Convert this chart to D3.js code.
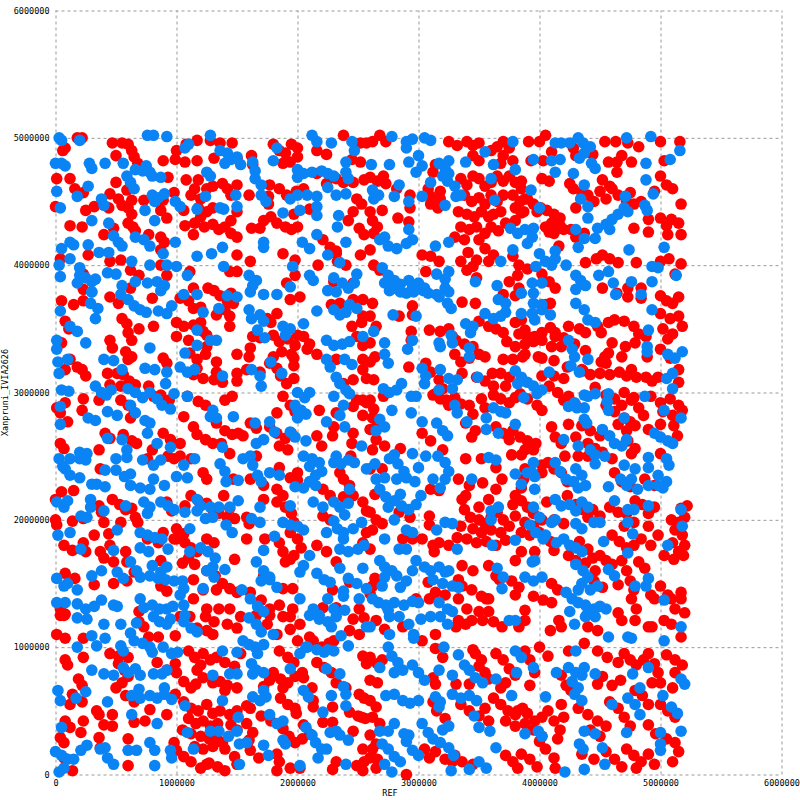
<!DOCTYPE html>
<html>
<head>
<meta charset="utf-8">
<script src="https://cdn.jsdelivr.net/npm/d3@7"></script>
<style>
body { margin: 0; background: #fff; }
svg { display: block; }
.tick text { font-family: "DejaVu Sans Mono", monospace; font-size: 8.5px; fill: #000; }
</style>
</head>
<body>
<script>
// dot plot of REF vs Xanpruni_IVIA2626, positions in Mb

var xTicks = [0, 1000000, 2000000, 3000000, 4000000, 5000000, 6000000];
var yTicks = [0, 1000000, 2000000, 3000000, 4000000, 5000000, 6000000];
var xLabel = "REF";
var yLabel = "Xanpruni_IVIA2626";

var redPts = [
// y 3.8 - 5.0, x 0 - 2.6
[0.18,5.0],[0.22,5.0],[0.08,4.92],[0.06,4.9],[0.47,4.96],[0.55,4.96],[0.6,4.95],[0.63,4.9],[0.65,4.85],[0.68,4.8],[0.5,4.86],
[0.89,4.82],[0.93,4.69],[0.01,4.68],[0.12,4.68],[0.16,4.6],[0.23,4.57],[0.5,4.65],[0.45,4.56],[0.52,4.52],[0.59,4.59],[0.63,4.51],
[0.98,4.57],[0.73,4.51],[0.89,4.51],[0.32,4.46],[0.44,4.45],[0.0,4.46],[0.25,4.43],[0.55,4.47],[0.6,4.45],[0.63,4.4],[0.6,4.33],
[0.64,4.3],[0.66,4.27],[0.87,4.43],[0.92,4.37],[0.12,4.31],[0.22,4.3],[0.48,4.29],[0.4,4.24],[0.77,4.24],[0.87,4.22],[0.9,4.18],
[0.27,4.08],[0.87,4.12],[0.04,4.05],[0.45,4.03],[0.54,4.04],[0.23,3.93],[0.62,3.96],[0.69,3.92],[0.87,4.0],[0.62,3.82],[0.92,3.92],
[1.08,4.95],[1.17,4.98],[1.0,4.9],[0.99,4.83],[1.07,4.81],[1.17,4.82],[1.28,4.98],[1.36,4.96],[1.46,4.96],[1.31,4.84],[1.5,4.84],
[1.62,4.86],[1.63,4.79],[1.08,4.67],[1.18,4.67],[1.15,4.6],[1.12,4.55],[1.2,4.52],[1.25,4.6],[1.3,4.62],[1.38,4.64],[1.42,4.6],
[1.45,4.55],[1.5,4.63],[1.18,4.45],[1.25,4.42],[1.3,4.45],[1.2,4.38],[1.15,4.33],[1.23,4.3],[1.3,4.32],[1.35,4.28],[1.4,4.3],
[1.45,4.25],[1.5,4.22],[1.45,4.35],[1.5,4.42],[1.06,4.43],[1.07,4.31],[1.14,4.24],[1.5,4.08],[1.61,4.03],[1.11,3.95],[1.14,3.82],
[1.26,3.82],[1.44,3.95],[1.5,3.95],[1.6,4.55],[1.77,4.63],[1.85,4.6],[1.76,4.54],[1.76,4.48],[1.72,4.35],[1.69,4.29],[1.78,4.38],
[1.83,4.33],[1.9,4.3],[1.95,4.28],[2.0,4.3],[1.97,4.4],[1.88,4.09],[1.98,4.04],[1.62,4.29],[1.8,4.95],[1.85,4.9],[1.9,4.88],
[1.95,4.95],[2.0,4.92],[1.88,4.8],[2.0,4.85],[1.94,4.81],[2.16,4.72],[1.91,4.55],[1.99,4.58],[2.05,4.6],[2.1,4.44],[2.38,5.02],
[2.52,4.96],[2.57,4.96],[2.16,4.9],[2.24,4.87],[2.45,4.83],[2.52,4.81],[2.24,4.64],[2.32,4.68],[2.38,4.65],[2.46,4.65],[2.55,4.67],
[2.49,4.52],[2.53,4.48],[2.46,4.42],[2.42,4.35],[2.51,4.29],[2.55,4.24],[2.21,4.2],[2.27,4.14],[2.32,4.11],[2.32,4.09],[2.33,4.03],
[2.4,4.0],[2.52,4.08],[2.17,4.0],[2.3,3.87],[2.46,3.86],[1.98,3.92],[1.91,3.86],
// y 3.8 - 5.0, x 2.6 - 5.2
[2.68,5.02],[2.62,4.97],[2.73,4.97],[2.6,4.69],[2.66,4.66],[2.73,4.64],[2.71,4.7],[2.82,4.6],[2.93,4.55],[2.93,4.45],[2.7,4.43],
[2.6,4.42],[2.62,4.35],[2.66,4.3],[2.63,4.25],[2.83,4.37],[2.92,4.34],[3.25,4.97],[3.32,4.94],[3.14,4.79],[3.12,4.73],[3.08,4.6],
[3.18,4.58],[3.1,4.54],[3.18,4.52],[3.1,4.48],[3.16,4.45],[3.35,4.68],[3.4,4.63],[3.45,4.7],[3.5,4.68],[3.55,4.62],[3.6,4.65],
[3.65,4.7],[3.7,4.66],[3.38,4.55],[3.44,4.5],[3.5,4.53],[3.55,4.48],[3.6,4.55],[3.65,4.5],[3.7,4.55],[3.33,4.42],[3.4,4.4],
[3.46,4.38],[3.52,4.42],[3.58,4.38],[3.62,4.4],[3.68,4.42],[3.35,4.3],[3.42,4.28],[3.48,4.3],[3.55,4.25],[3.6,4.3],[3.66,4.27],
[3.3,4.22],[3.38,4.2],[3.5,4.2],[3.72,4.33],[3.4,4.97],[3.45,4.94],[3.5,4.96],[3.6,4.9],[3.65,4.93],[3.7,4.97],[3.75,4.92],
[3.7,4.86],[3.68,4.8],[3.5,4.82],[3.45,4.86],[3.78,4.82],[3.75,4.7],[3.8,4.65],[3.85,4.6],[3.78,4.55],[3.84,4.5],[3.9,4.52],
[3.8,4.45],[3.87,4.42],[3.85,4.66],[4.02,4.68],[4.08,4.66],[3.91,4.97],[4.0,4.97],[4.05,5.02],[3.93,4.82],[4.03,4.82],[4.1,4.89],
[4.28,4.92],[4.3,4.86],[4.44,4.87],[4.25,4.64],[4.01,4.45],[4.06,4.43],[4.12,4.4],[4.1,4.33],[4.05,4.3],[4.12,4.25],[4.2,4.28],
[4.17,4.37],[3.88,4.52],[3.95,4.48],[3.98,4.42],[4.08,4.26],[4.17,4.31],[3.85,4.41],[3.8,4.35],[3.55,4.13],[3.62,4.08],[3.58,4.03],
[3.41,4.1],[3.48,4.04],[3.45,3.99],[3.78,4.07],[3.83,4.0],[3.9,3.97],[3.82,3.92],[4.16,4.15],[4.02,3.93],[4.26,4.28],[4.3,4.22],
[4.37,4.25],[4.52,4.08],[4.58,4.05],[4.65,4.02],[4.38,4.02],[4.47,4.05],[4.28,4.6],[4.35,4.57],[4.4,4.55],[4.45,4.5],[4.5,4.58],
[4.55,4.52],[4.6,4.6],[4.65,4.55],[4.72,4.5],[4.78,4.48],[4.3,4.45],[4.54,4.97],[4.63,4.97],[4.73,4.96],[4.82,4.93],[4.68,4.86],
[4.57,4.81],[4.64,4.81],[4.76,4.81],[4.64,4.73],[5.0,4.97],[5.16,4.97],[5.03,4.82],[4.52,4.67],[4.58,4.62],[5.0,4.7],[5.05,4.63],
[5.1,4.6],[4.95,4.58],[4.75,4.57],[4.84,4.5],[5.0,4.37],[5.09,4.36],[5.05,4.31],[5.15,4.33],[5.06,4.24],[5.17,4.24],[5.17,4.48],
[4.9,4.36],[4.9,4.26],[4.78,4.29],[5.07,4.05],[5.17,4.01],[4.8,4.02],[5.0,4.03],[5.12,3.93],[4.73,3.82],[4.84,3.82],[4.52,3.82],
[2.6,4.12],[2.63,4.0],[2.68,3.96],[2.78,3.85],[3.06,3.95],[3.17,4.03],[3.35,4.03],[3.03,4.08],[3.1,4.07],[3.4,3.96],[3.48,3.9],
[3.75,3.87],[3.83,3.82],[4.08,3.87],[4.13,3.82],
// y 2.5 - 3.8, x 0 - 2.6
[0.23,3.81],[0.05,3.72],[0.15,3.69],[0.23,3.72],[0.08,3.56],[0.11,3.5],[0.45,3.75],[0.52,3.7],[0.55,3.58],[0.59,3.54],[0.6,3.47],
[0.63,3.41],[0.69,3.5],[0.8,3.74],[0.81,3.52],[0.05,3.39],[0.45,3.41],[0.47,3.35],[0.58,3.32],[0.6,3.26],[0.63,3.28],[0.12,3.26],
[0.18,3.2],[0.22,3.18],[0.25,3.13],[0.08,3.18],[0.43,3.15],[0.51,3.15],[0.89,3.27],[0.92,3.23],[0.56,3.14],[0.61,3.09],[0.45,3.06],
[0.54,3.05],[0.66,3.06],[0.77,3.05],[0.81,2.97],[0.87,2.98],[0.94,2.94],[0.23,2.95],[0.08,2.92],[0.01,2.88],[0.04,2.84],[0.1,2.77],
[0.22,2.86],[0.36,2.94],[0.54,2.94],[0.6,2.9],[0.65,2.84],[0.62,2.8],[0.41,2.68],[0.45,2.64],[0.56,2.67],[0.63,2.62],[0.67,2.6],
[0.89,2.68],[0.95,2.63],[0.04,2.6],[0.07,2.56],[0.36,2.55],[0.8,2.55],[1.03,3.74],[1.1,3.72],[1.14,3.66],[1.2,3.67],[1.31,3.8],
[1.36,3.76],[1.42,3.72],[1.47,3.7],[1.4,3.65],[1.45,3.78],[1.44,3.6],[1.33,3.61],[1.0,3.55],[1.06,3.52],[1.14,3.53],[1.2,3.55],
[1.22,3.48],[1.25,3.45],[1.0,3.44],[1.1,3.41],[1.25,3.36],[1.44,3.52],[1.11,3.31],[1.17,3.26],[1.24,3.3],[1.17,3.19],[1.14,3.14],
[1.33,3.24],[1.5,3.3],[1.22,3.11],[1.31,3.1],[1.33,3.16],[1.38,3.08],[1.5,3.09],[1.58,3.18],[1.69,3.16],[1.61,3.35],[1.63,3.44],
[1.69,3.43],[1.75,3.58],[1.83,3.62],[1.94,3.73],[2.02,3.75],[1.78,3.55],[1.8,3.45],[1.85,3.4],[1.92,3.42],[1.98,3.37],[1.95,3.3],
[1.87,3.32],[2.0,3.45],[1.83,3.19],[1.86,3.13],[1.97,3.27],[1.97,3.21],[1.8,3.28],[1.77,3.23],[2.16,3.3],[2.32,3.26],[2.54,3.26],
[2.28,3.69],[2.35,3.7],[2.46,3.73],[2.54,3.73],[2.54,3.6],[2.53,3.55],[2.45,3.52],[2.49,3.44],[2.54,3.37],[2.05,3.44],[2.1,3.38],
[2.08,3.34],[1.91,3.07],[1.97,3.11],[2.38,3.07],[2.46,3.1],[2.54,3.18],[2.57,3.11],[2.49,2.94],[2.46,2.89],[2.54,2.94],[1.88,2.97],
[1.94,2.9],[1.98,2.85],[1.83,2.84],[2.18,2.86],[2.32,2.84],[2.54,2.82],[2.57,2.92],[2.3,2.73],[2.29,2.66],[2.46,2.68],[2.45,2.6],
[2.16,2.66],[2.2,2.58],[1.77,2.73],[1.83,2.68],[1.9,2.64],[1.95,2.68],[1.85,2.58],[1.92,2.55],[1.61,2.76],[1.66,2.72],[1.51,2.68],
[1.55,2.66],[1.33,2.76],[1.4,2.7],[1.46,2.67],[1.4,2.94],[1.46,2.97],[1.09,2.97],[1.18,2.93],[1.24,2.9],[1.06,2.81],[1.14,2.73],
[1.17,2.67],[1.24,2.63],[1.3,2.6],[1.37,2.6],[1.5,3.15],[1.03,2.6],[1.6,3.28],
// y 2.5 - 3.8, x 2.6 - 5.2
[2.62,3.7],[2.95,3.68],[2.95,3.61],[2.84,3.6],[2.6,3.6],[2.65,3.52],[2.6,3.39],[2.64,3.28],[2.6,3.24],[2.94,3.48],[2.94,3.41],
[2.63,3.1],[2.71,2.97],[2.6,2.94],[2.63,2.87],[2.62,2.8],[2.66,2.76],[2.6,2.71],[2.65,2.63],[2.72,2.58],[2.62,2.55],[2.85,2.56],
[3.03,2.68],[3.1,2.62],[3.2,2.55],[2.92,3.2],[3.06,3.23],[3.1,3.16],[3.17,3.1],[3.2,3.03],[3.12,2.98],[3.18,2.95],[3.14,2.99],
[3.36,3.71],[3.47,3.7],[3.5,3.56],[3.58,3.52],[3.64,3.5],[3.7,3.77],[3.8,3.76],[3.85,3.57],[3.88,3.49],[3.8,3.55],[3.83,3.46],
[3.9,3.44],[3.95,3.4],[3.88,3.38],[3.8,3.36],[3.7,3.47],[3.73,3.4],[3.25,3.5],[3.28,3.44],[3.09,3.49],[3.18,3.48],[3.31,3.41],
[3.38,3.38],[3.45,3.36],[3.3,3.3],[3.35,3.24],[3.42,3.27],[3.5,3.3],[3.55,3.28],[3.61,3.15],[3.68,3.15],[3.36,3.15],[3.48,3.12],
[3.7,3.26],[3.78,3.26],[3.86,3.28],[4.02,3.47],[4.09,3.51],[4.13,3.44],[4.05,3.69],[4.09,3.7],[3.96,3.44],[4.02,3.41],[3.88,3.3],
[3.99,3.28],[4.1,3.36],[4.18,3.36],[4.13,3.47],[4.2,3.43],[3.75,3.12],[3.72,3.05],[3.55,3.09],[3.62,3.05],[4.02,3.27],[4.12,3.25],
[4.02,3.13],[4.12,3.13],[4.2,3.11],[4.29,3.38],[4.38,3.33],[4.23,3.2],[4.35,3.18],[4.48,3.52],[4.57,3.55],[4.51,3.47],[4.24,3.52],
[4.33,3.5],[4.38,3.47],[4.36,3.17],[4.42,3.14],[4.5,3.15],[4.58,3.14],[4.66,3.16],[4.72,3.13],[4.8,3.12],[4.76,3.18],[4.6,3.39],
[4.57,3.31],[4.51,3.24],[4.55,3.23],[4.64,3.78],[4.73,3.75],[4.84,3.74],[4.7,3.56],[4.78,3.52],[4.82,3.46],[4.88,3.44],[5.0,3.76],
[5.05,3.72],[5.1,3.7],[5.15,3.75],[5.0,3.62],[5.08,3.58],[5.15,3.6],[5.02,3.5],[5.1,3.46],[5.18,3.52],[5.06,3.42],[4.62,3.57],
[4.79,3.39],[4.71,3.36],[4.89,3.28],[4.54,3.28],[4.68,3.28],[5.0,3.34],[5.08,3.27],[5.15,3.18],[4.98,3.12],[4.93,3.09],[5.15,3.08],
[4.88,3.12],[4.46,3.04],[4.55,2.98],[4.62,2.95],[4.7,3.0],[4.78,2.96],[4.68,2.9],[4.24,2.97],[4.3,2.9],[4.08,3.05],[4.15,3.0],
[4.2,2.94],[3.84,2.99],[3.9,2.95],[3.98,2.9],[4.02,2.86],[3.62,2.98],[3.68,2.95],[3.75,2.92],[3.8,2.96],[3.52,2.95],[3.55,2.88],
[3.3,2.96],[3.35,2.91],[3.42,2.9],[3.45,2.83],[3.23,2.94],[3.25,2.9],[3.39,2.76],[3.47,2.7],[3.44,2.65],[3.64,2.73],[3.7,2.68],
[3.75,2.63],[3.78,2.7],[3.84,2.65],[3.9,2.62],[3.97,2.6],[3.88,2.55],[3.95,2.55],[4.1,2.73],[4.24,2.75],[4.13,2.65],[4.18,2.6],
[4.35,2.74],[4.42,2.7],[4.5,2.66],[4.55,2.9],[4.62,2.85],[4.7,2.8],[4.75,2.77],[4.65,2.75],[4.72,2.7],[4.76,2.94],[4.82,2.88],
[4.86,2.82],[4.92,2.97],[5.0,2.92],[5.08,2.95],[5.15,2.9],[5.02,2.85],[5.1,2.82],[5.18,2.86],[5.0,2.75],[5.11,2.74],[4.79,2.74],
[4.9,2.71],[4.73,2.62],[4.79,2.56],[5.14,2.66],[4.3,2.65],[4.4,2.6],[4.46,2.56],[4.76,2.52],[5.0,2.52],
// y 1.25 - 2.5, x 0 - 2.6
[0.37,2.4],[0.76,2.48],[0.93,2.5],[0.98,2.48],[0.05,2.22],[0.15,2.23],[0.0,2.16],[0.36,2.11],[0.38,2.06],[0.47,2.16],[0.53,2.12],
[0.58,2.08],[0.63,2.09],[0.66,2.02],[0.68,1.98],[0.92,2.14],[0.96,2.07],[0.14,1.99],[0.23,2.01],[0.0,2.0],[0.01,1.96],[0.07,1.8],
[0.14,1.76],[0.23,1.82],[0.25,1.75],[0.32,1.88],[0.44,1.89],[0.4,1.98],[0.54,1.98],[0.37,1.75],[0.45,1.8],[0.4,1.7],[0.48,1.67],
[0.58,1.75],[0.59,1.67],[0.76,1.85],[0.85,1.82],[0.89,1.9],[0.98,1.85],[0.87,1.68],[0.65,1.59],[0.59,1.52],[0.48,1.5],[0.32,1.49],
[0.08,1.58],[0.16,1.54],[0.87,1.48],[0.92,1.44],[0.04,1.3],[0.07,1.25],[0.69,1.28],[1.03,2.5],[1.12,2.48],[1.22,2.37],[1.25,2.32],
[1.47,2.32],[1.39,2.19],[1.44,2.52],[1.66,2.5],[1.61,2.32],[1.72,2.27],[1.85,2.41],[1.94,2.33],[2.0,2.37],[2.0,2.31],[1.83,2.24],
[1.88,2.19],[1.72,2.16],[1.83,2.14],[1.9,2.1],[1.95,2.05],[1.97,1.98],[1.12,2.19],[1.18,2.15],[1.25,2.13],[1.3,2.08],[1.35,2.05],
[1.42,2.02],[1.07,2.11],[1.0,1.93],[1.06,1.89],[1.02,1.88],[1.44,2.09],[1.48,2.01],[1.58,2.02],[1.6,1.97],[1.0,1.85],[1.07,1.82],
[1.12,1.78],[1.17,1.75],[1.1,1.7],[1.05,1.66],[1.15,1.65],[1.25,1.85],[1.31,1.82],[1.25,1.6],[1.32,1.56],[1.38,1.5],[1.33,1.45],
[1.14,1.53],[1.22,1.45],[1.44,1.46],[1.5,1.43],[1.48,1.69],[1.58,1.85],[1.72,1.56],[1.61,1.43],[1.7,1.37],[1.66,1.25],[1.73,1.85],
[1.85,1.82],[1.88,1.75],[1.94,1.9],[2.0,1.85],[2.03,1.78],[1.97,1.72],[1.94,1.69],[1.9,1.67],[1.88,1.46],[1.96,1.46],[1.85,1.33],
[1.96,1.3],[1.77,1.3],[1.77,1.25],[1.44,1.3],[1.35,1.3],[1.25,1.3],[1.14,1.38],[2.21,2.24],[2.27,2.19],[2.35,2.37],[2.38,2.32],
[2.44,2.5],[2.43,2.27],[2.46,2.19],[2.38,2.18],[2.54,2.14],[2.57,2.07],[2.21,2.03],[2.27,2.0],[2.57,1.9],[2.54,1.82],[2.16,1.8],
[2.24,1.75],[2.32,1.67],[2.43,1.51],[2.29,1.45],[2.21,1.31],[2.32,1.31],[2.51,1.3],
// y 1.25 - 2.5, x 2.6 - 5.2
[2.7,2.4],[2.6,2.4],[3.1,2.24],[3.17,2.23],[2.64,2.2],[2.6,2.06],[2.65,2.0],[2.7,1.97],[2.62,1.92],[2.84,2.06],[2.93,2.02],
[2.87,1.85],[2.95,1.85],[2.6,1.77],[3.09,1.96],[3.09,2.03],[3.03,1.85],[3.12,1.8],[3.17,1.82],[3.25,1.8],[3.32,1.86],[3.13,1.75],
[3.33,2.32],[3.42,2.27],[3.36,2.16],[3.39,2.19],[3.53,2.29],[3.39,2.48],[3.52,2.48],[3.64,2.41],[3.69,2.32],[3.77,2.51],[3.85,2.51],
[3.88,2.4],[3.87,2.32],[3.85,2.25],[3.8,2.19],[4.02,2.37],[4.02,2.43],[3.64,2.24],[3.58,2.16],[3.5,2.1],[3.38,2.08],[3.43,2.02],
[3.5,2.0],[3.55,1.97],[3.6,2.02],[3.65,2.06],[3.7,2.0],[3.45,1.93],[3.52,1.9],[3.6,1.92],[3.68,1.9],[3.75,1.95],[3.4,1.85],
[3.48,1.82],[3.56,1.83],[3.64,1.8],[3.72,1.84],[3.35,1.95],[3.78,2.12],[3.85,2.15],[3.9,2.1],[3.95,2.05],[3.8,2.03],[3.88,1.98],
[3.95,1.95],[4.02,2.0],[3.85,1.9],[3.92,1.88],[4.0,1.9],[3.85,1.75],[3.8,1.68],[3.96,1.75],[4.07,2.45],[4.12,2.4],[4.18,2.37],
[4.23,2.3],[4.21,2.5],[4.32,2.5],[4.4,2.5],[4.52,2.53],[4.6,2.48],[4.06,2.14],[4.23,2.19],[4.3,2.12],[4.36,2.08],[4.4,2.02],
[4.12,2.0],[4.2,1.97],[4.44,2.08],[4.5,2.03],[4.58,2.1],[4.65,2.06],[4.72,2.05],[4.78,1.98],[4.7,1.95],[4.79,2.15],[4.85,2.12],
[4.9,2.05],[4.95,2.1],[4.62,2.37],[4.68,2.3],[4.75,2.26],[4.87,2.32],[4.95,2.27],[5.17,2.09],[5.22,2.11],[5.09,2.0],[5.15,1.98],
[5.2,2.02],[5.12,1.92],[5.18,1.88],[5.1,1.82],[5.2,1.8],[5.15,1.75],[5.03,1.72],[4.9,1.95],[4.98,1.88],[4.84,1.85],[4.92,1.8],
[4.6,1.88],[4.66,1.83],[4.72,1.78],[4.78,1.8],[4.33,1.83],[4.4,1.77],[4.09,1.83],[4.12,1.76],[4.24,1.72],[4.3,1.68],[4.38,1.66],
[4.44,1.7],[4.5,1.72],[4.55,1.68],[4.6,1.65],[4.46,1.6],[4.45,1.52],[4.52,1.47],[4.68,1.68],[4.72,1.6],[4.75,1.52],[4.78,1.45],
[4.82,1.67],[4.87,1.62],[5.0,1.48],[5.11,1.69],[5.19,1.72],[4.65,1.49],[4.92,1.41],[4.95,1.38],[5.17,1.43],[5.17,1.38],[5.06,1.41],
[5.09,1.38],[5.12,1.3],[5.2,1.27],[4.76,1.38],[4.8,1.3],[4.65,1.27],[4.1,1.5],[4.15,1.45],[3.95,1.4],[4.03,1.37],[4.1,1.35],
[3.88,1.29],[3.77,1.52],[3.83,1.47],[3.8,1.41],[3.58,1.64],[3.64,1.56],[3.67,1.53],[3.36,1.64],[3.45,1.6],[3.44,1.45],[3.52,1.4],
[3.56,1.38],[3.33,1.53],[3.36,1.48],[3.08,1.51],[3.14,1.43],[2.64,1.54],[2.62,1.48],[2.98,1.38],[3.09,1.38],[3.22,1.41],[3.33,1.38],
[3.4,1.3],[3.5,1.28],[3.58,1.28],[3.58,1.38],[2.6,1.42],
// y 0 - 1.25, x 0 - 2.6
[0.04,1.25],[0.08,1.26],[0.01,1.1],[0.08,1.07],[0.23,1.07],[0.69,1.2],[0.73,1.16],[0.99,1.09],[0.77,1.08],[0.85,1.08],[0.23,0.92],
[0.08,0.9],[0.1,0.86],[0.45,0.95],[0.52,0.93],[0.6,0.92],[0.52,0.87],[0.57,0.82],[0.6,0.77],[0.55,0.72],[0.84,0.88],[0.92,0.82],
[0.99,0.87],[1.0,0.8],[0.19,0.75],[0.22,0.7],[0.14,0.63],[0.12,0.55],[0.22,0.57],[0.5,0.68],[0.58,0.62],[0.78,0.51],[0.65,0.57],
[0.99,0.63],[0.34,0.5],[0.36,0.47],[0.47,0.47],[0.65,0.41],[0.74,0.42],[0.92,0.47],[0.4,0.39],[0.47,0.38],[0.08,0.42],[0.12,0.37],
[0.23,0.42],[0.21,0.33],[0.04,0.29],[0.07,0.25],[0.36,0.29],[0.37,0.21],[0.6,0.28],[0.98,0.25],[1.0,0.19],[0.07,0.13],[0.14,0.03],
[0.6,0.07],[1.03,1.24],[1.11,1.24],[1.24,1.24],[1.17,1.15],[1.25,1.13],[1.3,1.1],[1.31,1.2],[1.42,1.18],[1.5,1.15],[1.53,1.24],
[1.75,1.18],[1.83,1.1],[1.88,1.24],[1.94,1.24],[1.94,1.14],[2.02,1.18],[1.1,0.97],[1.15,0.92],[1.22,0.95],[1.28,0.9],[1.2,0.86],
[1.33,0.92],[1.4,0.88],[1.48,0.85],[1.53,0.95],[1.06,0.73],[1.12,0.68],[1.16,0.71],[1.17,0.82],[1.22,0.76],[1.3,0.72],[1.36,0.73],
[1.42,0.7],[1.4,0.66],[1.5,0.68],[1.72,0.69],[1.77,0.74],[1.8,0.8],[1.86,0.75],[1.92,0.72],[1.98,0.77],[2.04,0.8],[1.88,0.68],
[1.85,0.97],[1.92,0.92],[1.97,0.88],[2.0,1.05],[2.1,1.08],[1.06,0.57],[1.12,0.52],[1.18,0.5],[1.25,0.55],[1.3,0.48],[1.36,0.5],
[1.1,0.44],[1.16,0.4],[1.22,0.42],[1.28,0.38],[1.34,0.4],[1.05,0.35],[1.12,0.32],[1.2,0.3],[1.27,0.28],[1.33,0.3],[1.15,0.22],
[1.22,0.2],[1.3,0.22],[1.38,0.25],[1.44,0.47],[1.5,0.5],[1.45,0.39],[1.5,0.35],[1.58,0.54],[1.58,0.4],[1.63,0.33],[1.6,0.27],
[1.33,0.26],[1.4,0.2],[1.48,0.14],[1.5,0.08],[1.61,0.19],[1.68,0.13],[1.06,0.14],[1.12,0.1],[1.2,0.05],[1.25,0.08],[1.27,0.09],
[1.34,0.06],[1.4,0.03],[1.61,0.52],[1.7,0.46],[1.78,0.42],[1.88,0.36],[1.93,0.3],[1.98,0.25],[2.04,0.28],[1.83,0.16],[1.85,0.1],
[1.94,0.05],[2.02,0.05],[1.86,0.6],[1.92,0.55],[1.98,0.52],[1.99,0.48],[1.83,0.03],[2.46,1.22],[2.55,1.23],[2.43,1.13],[2.51,1.1],
[2.13,1.05],[2.2,1.0],[2.26,1.03],[2.3,1.05],[2.54,0.93],[2.57,0.87],[2.16,0.88],[2.22,0.84],[2.28,0.8],[2.05,0.76],[2.12,0.68],
[2.32,0.72],[2.4,0.68],[2.51,0.63],[2.55,0.6],[2.13,0.58],[2.13,0.53],[2.29,0.53],[2.43,0.49],[2.5,0.46],[2.56,0.44],[2.21,0.41],
[2.29,0.41],[2.1,0.32],[2.05,0.39],[2.46,0.34],[2.53,0.45],[2.54,0.2],[2.32,0.1],[2.29,0.04],[2.49,0.07],[2.55,0.1],[2.54,0.03],
// y 0 - 1.25, x 2.6 - 5.2
[2.65,1.21],[2.72,1.14],[2.87,1.16],[3.03,1.05],[3.14,1.1],[3.31,1.16],[3.39,1.18],[3.33,1.21],[3.44,1.21],[3.53,1.21],[3.62,1.2],
[3.69,1.16],[3.83,1.16],[3.88,1.21],[4.09,1.13],[4.16,1.21],[4.18,1.16],[4.4,1.16],[4.48,1.13],[4.68,1.21],[4.79,1.21],[4.9,1.16],
[4.93,1.16],[5.03,1.21],[5.09,1.18],[5.17,1.08],[2.6,0.92],[2.66,0.87],[2.7,0.9],[2.6,0.74],[2.66,0.72],[3.12,0.76],[3.14,0.71],
[3.14,0.99],[3.2,0.92],[3.31,0.71],[3.42,0.71],[3.47,0.95],[3.52,0.9],[3.45,0.98],[3.5,0.85],[3.55,0.8],[3.58,0.75],[3.64,0.95],
[3.7,0.9],[3.75,0.83],[3.8,0.78],[3.72,0.72],[3.68,0.68],[3.88,0.97],[3.92,0.9],[3.96,0.8],[3.92,0.7],[4.0,1.0],[4.07,0.93],
[4.18,0.78],[4.22,0.7],[4.26,0.66],[4.24,0.97],[4.37,1.03],[4.48,0.97],[4.56,0.92],[4.65,0.88],[4.48,0.71],[4.52,0.77],[4.6,0.7],
[4.67,0.74],[4.7,0.95],[4.75,0.9],[4.8,0.86],[4.86,0.9],[4.9,0.95],[4.95,0.87],[4.98,0.8],[4.93,0.72],[5.05,0.94],[5.12,0.9],
[5.18,0.86],[5.12,0.8],[5.0,0.72],[5.1,0.68],[2.6,0.58],[2.65,0.53],[2.62,0.45],[2.68,0.4],[3.12,0.57],[3.15,0.5],[3.22,0.44],
[3.35,0.55],[3.42,0.5],[3.5,0.46],[3.55,0.52],[3.58,0.42],[3.62,0.6],[3.68,0.55],[3.74,0.5],[3.8,0.47],[3.86,0.52],[3.72,0.42],
[3.8,0.38],[3.88,0.4],[3.82,0.5],[3.9,0.48],[3.96,0.42],[4.02,0.45],[3.95,0.35],[4.02,0.3],[4.07,0.5],[4.12,0.42],[4.17,0.35],
[4.2,0.45],[4.15,0.28],[4.18,0.55],[4.32,0.52],[4.4,0.47],[4.48,0.42],[4.55,0.38],[4.42,0.35],[4.5,0.3],[4.58,0.57],[4.65,0.52],
[4.7,0.45],[4.75,0.38],[4.79,0.66],[4.85,0.62],[4.9,0.55],[4.9,0.39],[4.96,0.32],[5.0,0.55],[5.06,0.5],[5.12,0.45],[5.05,0.28],
[5.12,0.25],[5.15,0.18],[5.1,0.1],[4.9,0.16],[4.95,0.08],[4.72,0.2],[4.78,0.15],[4.84,0.1],[4.8,0.05],[4.55,0.18],[4.62,0.12],
[4.68,0.06],[4.35,0.16],[4.45,0.12],[4.13,0.05],[4.05,0.2],[4.12,0.13],[4.0,0.26],[3.85,0.16],[3.92,0.12],[3.98,0.06],[3.72,0.15],
[3.78,0.1],[3.82,0.05],[3.3,0.15],[3.36,0.1],[3.45,0.08],[3.14,0.18],[3.22,0.12],[3.05,0.2],[3.09,0.13],[2.62,0.2],[2.66,0.12],
[2.6,0.13],[2.6,0.31],[2.65,0.24],[2.9,0.0],[3.28,0.1],[2.65,0.05]
];

var bluePts = [
// y 3.8 - 5.0, x 0 - 2.6
[0.03,5.0],[0.05,4.98],[0.2,4.98],[0.0,4.8],[0.05,4.8],[0.08,4.78],[0.28,4.8],[0.3,4.76],[0.41,4.8],[0.56,4.8],[0.59,4.7],
[0.62,4.65],[0.65,4.6],[0.66,4.75],[0.72,4.74],[0.78,4.73],[0.75,4.78],[0.8,4.7],[0.87,4.69],[0.76,5.02],[0.81,5.02],[0.92,5.01],
[0.27,4.62],[0.18,4.54],[0.01,4.58],[0.8,4.55],[0.85,4.53],[0.9,4.56],[0.82,4.5],[0.99,4.5],[1.03,4.46],[0.38,4.52],[0.4,4.47],
[0.04,4.45],[0.74,4.43],[0.82,4.35],[0.3,4.35],[0.44,4.33],[0.48,4.23],[0.52,4.18],[0.55,4.15],[0.12,4.18],[0.15,4.16],[0.05,4.13],
[0.66,4.22],[0.73,4.2],[0.78,4.15],[0.27,4.16],[0.36,4.1],[0.44,4.1],[0.89,4.09],[0.99,4.18],[0.12,4.05],[0.63,4.03],[0.03,4.0],
[0.2,3.98],[0.2,3.92],[0.25,3.9],[0.3,3.87],[0.33,3.89],[0.43,3.94],[0.5,3.93],[0.78,4.0],[0.92,4.0],[1.0,3.99],[0.04,3.91],
[0.55,3.84],[0.66,3.87],[0.76,3.86],[0.84,3.87],[0.9,3.84],[0.3,3.79],[0.18,3.86],[1.07,4.92],[1.1,4.95],[1.28,5.02],[1.36,4.9],
[1.42,4.88],[1.45,4.83],[1.4,4.8],[1.5,4.85],[1.53,4.79],[1.63,4.81],[1.65,4.74],[1.65,4.68],[1.25,4.73],[1.28,4.7],[1.24,4.54],
[1.36,4.45],[1.39,4.44],[1.5,4.46],[1.49,4.55],[1.17,4.44],[1.38,4.14],[1.29,4.09],[1.17,4.07],[1.09,3.92],[1.39,3.99],[1.6,3.92],
[1.66,3.88],[1.63,3.84],[1.7,4.63],[1.7,4.55],[1.74,4.5],[1.88,4.41],[2.02,4.43],[1.72,4.18],[1.72,4.14],[1.96,3.99],[1.83,4.92],
[1.8,4.82],[2.0,4.75],[2.05,4.72],[2.12,4.73],[2.2,4.74],[2.25,4.72],[2.3,4.7],[2.0,4.69],[1.94,4.52],[2.0,4.55],[2.08,4.55],
[2.16,4.54],[2.16,4.46],[2.12,5.02],[2.16,4.97],[2.28,4.96],[2.45,4.97],[2.47,4.9],[2.4,4.81],[2.4,4.73],[2.42,4.68],[2.25,4.61],
[2.32,4.55],[2.4,4.56],[2.34,4.39],[2.33,4.3],[2.16,4.39],[2.16,4.24],[2.25,4.08],[2.04,4.18],[2.1,4.13],[2.4,4.18],[2.35,4.02],
[2.49,3.93],[2.1,3.92],[2.13,3.88],[2.3,3.9],[2.37,3.86],[2.42,3.82],[2.47,3.86],[1.94,3.83],
// y 3.8 - 5.0, x 2.6 - 5.2
[2.78,5.01],[2.9,4.97],[2.95,4.99],[3.05,5.0],[3.1,4.98],[2.9,4.92],[3.0,4.86],[3.03,4.78],[2.98,4.73],[2.92,4.81],[2.76,4.79],
[2.61,4.79],[2.62,4.59],[2.67,4.55],[2.63,4.52],[2.84,4.63],[2.8,4.54],[2.92,4.5],[2.72,4.22],[3.17,4.8],[3.22,4.76],[3.25,4.72],
[3.2,4.7],[3.24,4.66],[3.25,4.82],[3.1,4.65],[3.03,4.54],[3.22,4.47],[3.3,4.62],[3.31,4.54],[3.35,4.55],[3.39,4.81],[3.55,4.89],
[3.62,4.79],[3.78,4.97],[3.8,4.75],[3.6,4.68],[3.63,4.51],[3.93,4.59],[3.95,4.83],[4.1,4.82],[4.17,4.83],[4.13,4.96],[4.18,4.96],
[4.25,4.96],[4.13,4.73],[4.32,5.0],[4.36,4.96],[4.42,4.93],[4.37,4.88],[4.33,4.84],[4.43,4.8],[4.46,4.76],[4.28,4.72],[4.0,4.45],
[3.76,4.29],[3.82,4.25],[3.88,4.28],[3.95,4.29],[3.94,4.22],[4.13,4.11],[3.68,4.03],[3.78,4.12],[3.9,4.17],[4.0,4.09],[4.05,4.03],
[4.1,4.0],[4.13,4.05],[3.97,3.99],[4.22,4.0],[4.3,4.28],[4.37,4.21],[4.32,4.14],[4.4,4.37],[4.48,4.29],[4.46,4.21],[4.55,4.32],
[4.6,4.36],[4.65,4.4],[4.7,4.45],[4.73,4.42],[4.58,4.28],[4.74,4.12],[4.37,4.63],[4.34,4.52],[4.4,4.46],[4.72,5.0],[4.88,4.8],
[4.88,4.67],[4.92,5.01],[5.16,4.9],[5.08,4.83],[4.94,4.56],[4.71,4.54],[4.87,4.47],[4.89,4.43],[5.03,4.14],[4.93,3.99],[4.98,3.98],
[5.13,3.92],[4.76,3.87],[4.93,3.87],[4.3,3.92],[4.34,3.88],[4.38,3.84],[4.3,3.81],[4.49,3.92],[4.57,3.95],[4.61,3.86],[2.68,4.2],
[2.75,4.15],[2.82,4.13],[2.9,4.17],[2.95,4.2],[2.92,4.28],[2.7,3.98],[2.75,3.92],[2.8,3.88],[2.85,3.85],[2.92,3.88],[3.0,3.86],
[3.05,3.82],[2.95,3.82],[2.8,3.82],[2.72,3.86],[3.15,3.93],[3.22,3.89],[3.25,3.95],[3.22,3.82],[3.14,4.15],[3.25,4.18],[3.47,3.87],
[3.65,3.84],[3.94,3.86],[4.02,3.86],
// y 2.5 - 3.8, x 0 - 2.6
[0.3,3.79],[0.29,3.7],[0.35,3.66],[0.04,3.64],[0.33,3.58],[0.12,3.52],[0.18,3.48],[0.54,3.77],[0.6,3.73],[0.65,3.68],[0.7,3.65],
[0.75,3.63],[0.85,3.64],[0.92,3.62],[0.96,3.68],[0.87,3.8],[0.01,3.41],[0.01,3.34],[0.25,3.39],[0.78,3.35],[0.02,3.24],[0.1,3.26],
[0.03,3.15],[0.4,3.26],[0.48,3.25],[0.55,3.18],[0.74,3.19],[0.82,3.18],[0.92,3.16],[0.91,3.07],[0.33,3.05],[0.38,3.0],[0.42,2.98],
[0.46,3.02],[0.6,3.03],[0.66,3.0],[0.72,2.96],[0.78,3.0],[0.84,2.95],[0.88,2.9],[0.95,2.87],[0.98,2.99],[0.05,3.02],[0.11,3.01],
[0.04,2.89],[0.04,2.75],[0.27,2.8],[0.33,2.78],[0.43,2.85],[0.51,2.82],[0.62,2.9],[0.66,2.84],[0.74,2.78],[0.78,2.76],[0.76,2.68],
[0.43,2.64],[0.55,2.63],[0.2,2.53],[0.26,2.52],[0.59,2.55],[0.84,2.6],[0.95,2.57],[1.06,3.77],[1.17,3.77],[1.42,3.76],[1.5,3.75],
[1.35,3.66],[1.22,3.63],[1.17,3.49],[1.28,3.41],[1.33,3.41],[1.17,3.37],[1.07,3.31],[1.03,3.2],[1.09,3.16],[1.15,3.18],[1.38,3.13],
[1.62,3.18],[1.69,3.13],[1.7,3.05],[1.6,3.65],[1.62,3.58],[1.69,3.61],[1.72,3.56],[1.67,3.49],[1.73,3.43],[1.61,3.79],[1.72,3.77],
[1.83,3.77],[1.88,3.52],[1.94,3.5],[1.9,3.45],[2.05,3.54],[1.87,3.15],[1.78,3.24],[2.24,3.26],[2.39,3.26],[2.45,3.22],[2.16,3.64],
[2.3,3.65],[2.35,3.61],[2.4,3.63],[2.43,3.69],[2.49,3.66],[2.25,3.8],[2.32,3.79],[2.54,3.44],[2.24,3.41],[2.3,3.37],[2.37,3.38],
[2.43,3.4],[2.27,3.2],[2.32,3.12],[2.35,3.07],[2.4,3.02],[2.43,2.99],[2.3,2.97],[2.0,3.0],[2.06,2.96],[2.1,3.0],[1.98,2.9],
[2.03,2.86],[2.0,2.86],[2.0,2.8],[2.07,2.83],[2.38,2.9],[2.35,2.82],[2.24,2.77],[2.39,2.73],[2.53,2.58],[1.81,2.69],[1.94,2.69],
[1.98,2.65],[2.07,2.62],[1.77,2.77],[1.65,2.76],[1.3,2.86],[1.33,2.8],[1.47,2.81],[1.09,2.97],[1.28,2.81],[1.38,2.57],[1.66,2.6],
[1.72,2.63],
// y 2.5 - 3.8, x 2.6 - 5.2
[2.76,3.8],[2.85,3.79],[2.9,3.78],[2.95,3.8],[2.96,3.79],[3.04,3.8],[3.08,3.78],[3.15,3.77],[3.25,3.79],[2.98,3.6],[2.79,3.61],
[2.63,3.48],[2.72,3.39],[2.72,3.3],[2.75,3.23],[2.95,3.41],[2.91,3.34],[2.86,3.07],[2.82,3.02],[2.71,3.03],[2.76,3.0],[2.78,2.86],
[2.68,2.79],[2.72,2.73],[2.65,2.7],[2.8,2.51],[2.95,2.52],[2.94,2.84],[3.03,2.77],[3.15,2.76],[3.2,2.7],[3.24,2.66],[2.94,2.97],
[2.98,2.97],[3.03,3.19],[3.06,3.13],[3.05,3.07],[3.18,3.18],[3.25,3.11],[3.32,3.1],[3.28,3.03],[3.17,3.02],[3.17,3.75],[3.24,3.7],
[3.27,3.66],[3.39,3.54],[3.45,3.52],[3.43,3.47],[3.55,3.62],[3.62,3.58],[3.68,3.6],[3.72,3.63],[3.72,3.7],[3.66,3.73],[3.85,3.78],
[3.95,3.78],[3.85,3.62],[3.27,3.45],[3.28,3.39],[3.17,3.39],[3.18,3.36],[3.42,3.35],[3.42,3.28],[3.94,3.62],[4.02,3.65],[4.09,3.61],
[3.95,3.7],[4.02,3.69],[3.96,3.57],[4.24,3.41],[3.8,3.17],[3.85,3.12],[3.9,3.08],[3.95,3.05],[3.82,3.07],[3.49,3.12],[4.08,3.16],
[4.27,3.34],[4.29,3.28],[4.26,3.21],[4.33,3.16],[4.4,3.26],[4.3,3.7],[4.37,3.65],[4.4,3.57],[4.46,3.55],[4.63,3.77],[4.84,3.77],
[4.93,3.65],[4.9,3.49],[4.89,3.36],[4.89,3.32],[5.06,3.3],[5.12,3.27],[5.18,3.32],[5.05,3.11],[5.1,3.15],[5.1,3.03],[4.46,2.99],
[4.57,2.99],[4.56,2.93],[4.57,2.86],[4.37,2.98],[4.4,2.97],[4.29,2.92],[4.37,2.88],[4.24,2.89],[4.02,3.02],[3.98,2.99],[3.87,2.96],
[3.62,2.88],[3.68,2.85],[3.72,2.84],[3.3,2.9],[3.32,2.84],[3.56,2.8],[3.4,2.77],[3.56,2.71],[3.66,2.68],[3.8,2.75],[4.2,2.63],
[4.31,2.88],[4.37,2.79],[4.39,2.76],[4.7,2.8],[4.87,2.97],[5.03,2.86],[5.17,2.8],[4.52,2.71],[4.58,2.66],[4.62,2.6],[4.68,2.58],
[4.72,2.63],[4.95,2.68],[5.0,2.65],[5.06,2.62],[5.1,2.6],[4.32,2.58],[4.42,2.55],[4.46,2.51],
// y 1.25 - 2.5, x 0 - 2.6
[0.03,2.48],[0.06,2.42],[0.08,2.4],[0.12,2.48],[0.2,2.48],[0.25,2.47],[0.41,2.39],[0.5,2.39],[0.57,2.34],[0.62,2.36],[0.5,2.48],
[0.59,2.49],[0.72,2.47],[0.81,2.43],[0.87,2.47],[0.81,2.32],[0.9,2.27],[0.62,2.27],[0.7,2.25],[0.78,2.24],[1.0,2.34],[0.12,2.35],
[0.2,2.33],[0.3,2.28],[0.34,2.28],[0.41,2.26],[0.01,2.14],[0.07,2.1],[0.1,2.15],[0.29,2.16],[0.29,2.1],[0.4,2.07],[0.58,2.11],
[0.73,2.14],[0.78,2.1],[0.76,2.05],[0.87,2.14],[0.93,2.11],[0.98,2.08],[0.21,2.03],[0.26,2.02],[0.02,1.88],[0.12,1.9],[0.51,1.92],
[0.21,1.77],[0.48,1.76],[0.7,1.9],[0.76,1.88],[0.82,1.86],[0.88,1.85],[0.7,1.78],[0.77,1.75],[0.93,1.77],[0.62,1.67],[0.67,1.6],
[0.7,1.55],[0.8,1.64],[0.78,1.56],[0.87,1.59],[0.92,1.63],[0.51,1.59],[0.56,1.54],[0.38,1.6],[0.3,1.56],[0.01,1.54],[0.07,1.48],
[0.1,1.5],[0.18,1.45],[0.85,1.54],[0.91,1.53],[0.98,1.52],[1.05,1.52],[1.06,1.46],[1.03,1.41],[0.01,1.35],[0.08,1.35],[0.18,1.34],
[0.25,1.3],[0.32,1.32],[0.38,1.37],[0.48,1.33],[0.51,1.32],[0.7,1.38],[0.73,1.31],[0.8,1.33],[0.86,1.3],[0.92,1.3],[0.97,1.32],
[1.15,2.48],[1.09,2.33],[1.06,2.43],[1.36,2.44],[1.4,2.38],[1.41,2.3],[1.51,2.31],[1.55,2.48],[1.61,2.5],[1.63,2.43],[1.67,2.35],
[1.7,2.3],[1.77,2.37],[1.85,2.35],[1.98,2.26],[1.94,2.11],[1.17,2.16],[1.17,2.07],[1.2,2.11],[1.28,2.1],[1.35,2.1],[1.3,2.02],
[1.24,2.01],[1.07,2.06],[1.11,1.93],[1.51,2.15],[1.44,2.1],[1.41,1.96],[1.46,1.9],[1.62,2.01],[1.69,1.98],[1.69,2.1],[1.11,1.75],
[1.2,1.78],[1.26,1.75],[1.32,1.7],[1.3,1.63],[1.25,1.6],[1.31,1.55],[1.22,1.46],[1.4,1.61],[1.54,1.45],[1.66,1.67],[1.72,1.6],
[1.77,1.55],[1.7,1.52],[1.61,1.38],[1.67,1.32],[1.72,1.28],[1.72,1.76],[1.81,1.87],[1.88,1.98],[1.94,1.96],[2.0,1.95],[2.05,1.92],
[1.77,1.53],[1.83,1.47],[2.02,1.38],[1.06,1.33],[1.07,1.25],[2.05,2.5],[2.12,2.48],[2.18,2.45],[2.1,2.42],[2.15,2.35],[2.2,2.38],
[2.1,2.3],[2.15,2.27],[2.05,2.25],[2.3,2.45],[2.36,2.44],[2.42,2.47],[2.47,2.45],[2.32,2.5],[2.43,2.24],[2.57,2.4],[2.13,2.14],
[2.21,2.1],[2.3,2.14],[2.35,2.1],[2.42,2.13],[2.39,2.04],[2.3,1.99],[2.33,1.93],[2.38,1.9],[2.24,1.9],[2.46,1.93],[2.53,1.98],
[2.38,1.85],[2.35,1.77],[2.42,1.75],[2.5,1.77],[2.55,1.8],[2.1,1.72],[2.05,1.64],[2.02,1.59],[2.16,1.58],[2.22,1.53],[2.27,1.51],
[2.35,1.62],[2.42,1.54],[2.54,1.62],[2.49,1.5],[2.38,1.44],[2.38,1.4],[2.25,1.38],[2.51,1.38],[2.13,1.3],[2.18,1.25],[2.3,1.3],
[2.39,1.29],[2.57,1.46],
// y 1.25 - 2.5, x 2.6 - 5.2
[2.64,2.44],[2.76,2.48],[2.83,2.44],[2.88,2.38],[2.82,2.32],[2.65,2.32],[2.72,2.33],[2.9,2.33],[2.97,2.3],[3.06,2.5],[3.0,2.41],
[3.16,2.5],[3.22,2.45],[3.25,2.38],[3.22,2.32],[3.12,2.32],[3.18,2.25],[2.68,2.24],[2.73,2.18],[2.75,2.1],[2.8,2.15],[2.85,2.2],
[2.86,2.11],[2.92,2.08],[2.98,2.12],[3.02,2.19],[2.8,2.0],[2.9,1.92],[2.95,1.9],[2.72,1.85],[2.84,1.77],[2.9,1.77],[3.22,1.98],
[3.28,1.97],[3.15,1.92],[3.32,1.77],[3.44,2.32],[3.58,2.49],[3.64,2.47],[3.95,2.45],[3.94,2.37],[3.8,2.36],[3.85,2.28],[3.9,2.37],
[3.96,2.34],[3.96,2.24],[3.6,2.07],[3.6,2.0],[3.66,2.1],[3.61,1.8],[3.95,2.1],[3.92,1.96],[4.0,2.02],[3.97,1.9],[4.03,1.85],
[4.05,1.88],[3.8,1.84],[3.94,1.67],[3.96,1.68],[4.13,2.45],[4.17,2.38],[4.22,2.32],[4.28,2.3],[4.3,2.4],[4.35,2.35],[4.32,2.25],
[4.38,2.27],[4.46,2.44],[4.54,2.5],[4.13,2.16],[4.18,2.11],[4.25,2.12],[4.3,2.07],[4.35,2.14],[4.4,2.1],[4.3,1.97],[4.35,1.93],
[4.1,1.98],[4.13,2.0],[4.45,1.98],[4.5,1.98],[4.62,2.15],[4.73,2.08],[4.78,2.08],[4.73,1.98],[4.9,2.11],[4.7,2.43],[4.79,2.4],
[4.76,2.32],[4.67,2.32],[4.72,2.27],[4.57,2.26],[4.9,2.41],[4.9,2.49],[4.81,2.24],[4.9,2.27],[4.98,2.35],[5.05,2.3],[5.02,2.25],
[5.05,2.48],[5.07,2.43],[4.98,2.27],[5.17,2.08],[5.18,1.95],[5.06,1.8],[4.77,1.89],[4.53,1.83],[4.14,1.82],[4.2,1.85],[4.25,1.8],
[4.3,1.78],[4.35,1.75],[4.3,1.65],[4.36,1.6],[4.4,1.55],[4.35,1.5],[4.42,1.45],[4.48,1.48],[4.32,1.45],[4.57,1.61],[4.62,1.56],
[4.73,1.74],[4.9,1.54],[4.88,1.48],[4.79,1.48],[5.03,1.37],[4.22,1.43],[4.27,1.38],[4.32,1.35],[4.38,1.33],[4.45,1.3],[4.5,1.32],
[4.55,1.3],[4.4,1.27],[4.25,1.28],[3.88,1.55],[3.95,1.52],[4.02,1.55],[3.69,1.46],[3.65,1.62],[3.7,1.55],[3.28,1.48],[3.33,1.47],
[3.17,1.63],[3.22,1.59],[3.25,1.6],[2.98,1.68],[3.05,1.63],[3.1,1.6],[2.95,1.6],[3.12,1.53],[3.2,1.5],[2.68,1.68],[2.72,1.63],
[2.78,1.6],[2.82,1.56],[2.9,1.52],[2.72,1.55],[2.7,1.48],[2.85,1.47],[2.62,1.38],[2.67,1.35],[2.73,1.33],[2.8,1.35],[2.88,1.33],
[2.95,1.36],[3.0,1.35],[2.75,1.29],[3.17,1.35],[3.24,1.3],[3.28,1.28],
// y 0 - 1.25, x 0 - 2.6
[0.18,1.23],[0.26,1.22],[0.4,1.18],[0.3,1.09],[0.41,1.07],[0.54,1.18],[0.62,1.11],[0.67,1.19],[0.81,1.24],[0.86,1.2],[0.92,1.18],
[0.95,1.22],[0.34,1.01],[0.18,1.0],[0.54,1.01],[0.56,0.97],[0.65,1.05],[0.72,1.03],[0.78,1.0],[0.8,0.96],[0.89,1.0],[0.96,0.95],
[1.01,0.96],[0.56,0.84],[0.6,0.8],[0.66,0.83],[0.7,0.78],[0.4,0.79],[0.48,0.78],[0.3,0.82],[0.81,0.79],[0.88,0.79],[0.92,0.82],
[0.02,0.66],[0.04,0.58],[0.17,0.6],[0.25,0.65],[0.43,0.57],[0.63,0.62],[0.7,0.6],[0.78,0.62],[0.84,0.6],[0.69,0.67],[0.9,0.68],
[0.9,0.63],[0.96,0.59],[0.63,0.47],[0.84,0.4],[0.05,0.37],[0.78,0.25],[0.82,0.19],[0.95,0.19],[0.96,0.13],[0.6,0.19],[0.67,0.19],
[0.37,0.2],[0.41,0.21],[0.26,0.23],[0.21,0.19],[0.0,0.18],[0.05,0.15],[0.1,0.12],[0.15,0.12],[0.07,0.05],[0.03,0.02],[0.43,0.13],
[0.48,0.08],[0.82,0.07],[1.06,1.2],[1.12,1.15],[1.17,1.12],[1.6,1.23],[1.66,1.18],[1.7,1.12],[1.8,1.1],[1.38,0.97],[1.5,0.96],
[1.55,1.05],[1.6,1.02],[1.65,1.0],[1.72,1.02],[1.67,0.95],[1.62,0.87],[1.66,0.82],[1.3,0.78],[1.44,0.79],[1.5,0.79],[1.63,0.79],
[1.72,0.8],[1.94,0.83],[2.02,0.95],[2.07,1.0],[1.72,0.66],[1.74,0.61],[1.63,0.61],[1.69,0.58],[1.38,0.58],[1.07,0.54],[1.09,0.33],
[1.28,0.34],[1.51,0.45],[1.43,0.3],[1.5,0.34],[1.35,0.34],[1.52,0.24],[1.72,0.23],[1.58,0.25],[1.76,0.15],[1.14,0.2],[1.52,0.08],
[1.77,0.47],[1.83,0.4],[1.88,0.42],[1.88,0.27],[1.9,0.24],[2.02,0.07],[2.1,1.25],[2.18,1.22],[2.25,1.2],[2.28,1.16],[2.32,1.24],
[2.57,1.16],[2.36,1.09],[2.08,1.0],[2.16,0.98],[2.22,0.96],[2.25,0.98],[2.3,0.97],[2.42,1.01],[2.24,0.83],[2.35,0.79],[2.05,0.66],
[2.09,0.61],[2.38,0.69],[2.4,0.63],[2.28,0.62],[2.21,0.49],[2.4,0.54],[2.27,0.33],[2.32,0.34],[2.07,0.37],[2.12,0.31],[2.15,0.25],
[2.2,0.2],[2.35,0.31],[2.42,0.27],[2.24,0.2],[2.17,0.13],[2.4,0.08],
// y 0 - 1.25, x 2.6 - 5.2
[2.76,1.24],[2.84,1.24],[2.76,1.1],[2.92,1.18],[2.96,1.1],[3.02,1.22],[3.1,1.24],[2.96,1.07],[3.18,1.24],[3.24,1.18],[3.75,1.21],
[3.8,1.21],[4.29,1.18],[4.38,1.24],[4.46,1.24],[4.57,1.08],[4.73,1.08],[4.76,1.07],[5.17,1.16],[5.03,1.05],[2.6,1.16],[2.75,1.0],
[2.78,0.93],[2.83,0.88],[2.87,0.82],[2.8,0.8],[2.68,0.84],[2.95,0.86],[3.0,0.8],[3.05,0.74],[3.17,0.82],[3.28,0.78],[3.21,1.0],
[3.33,0.94],[3.38,0.86],[3.42,0.82],[3.47,0.76],[3.53,0.72],[3.64,0.75],[3.8,0.97],[3.85,0.92],[3.81,0.8],[3.95,0.84],[4.14,0.8],
[4.24,0.84],[4.3,0.8],[4.35,0.78],[4.27,0.73],[4.3,0.97],[4.37,0.84],[4.46,0.79],[4.77,0.79],[4.83,0.68],[4.9,0.84],[5.17,0.75],
[5.2,0.71],[2.73,0.62],[2.8,0.63],[2.87,0.58],[2.93,0.56],[3.0,0.58],[3.14,0.61],[3.18,0.57],[3.28,0.63],[3.35,0.6],[3.42,0.62],
[3.48,0.58],[3.17,0.53],[3.46,0.46],[3.25,0.38],[3.5,0.37],[3.59,0.34],[3.77,0.62],[3.88,0.32],[3.99,0.34],[4.02,0.3],[4.05,0.61],
[4.32,0.68],[4.35,0.58],[4.29,0.63],[4.37,0.34],[4.46,0.32],[4.6,0.55],[4.72,0.33],[4.79,0.55],[4.83,0.47],[4.73,0.6],[5.02,0.62],
[5.09,0.53],[5.14,0.48],[5.17,0.34],[5.0,0.33],[5.0,0.24],[5.0,0.19],[4.52,0.21],[4.54,0.08],[4.37,0.04],[4.33,0.24],[4.36,0.2],
[4.21,0.02],[3.64,0.21],[3.5,0.1],[3.56,0.05],[3.42,0.04],[3.27,0.03],[3.25,0.21],[3.29,0.15],[3.03,0.4],[3.08,0.33],[3.12,0.28],
[3.18,0.25],[3.2,0.35],[2.9,0.26],[2.95,0.19],[3.0,0.15],[2.7,0.24],[2.75,0.2],[2.8,0.14],[2.85,0.1],[2.72,0.08],[2.78,0.02],
[2.8,0.4],[2.68,0.34],[2.75,0.34],[2.88,0.32],[2.92,0.31]
];

var width = 800, height = 800;
var dotR = 5.8;

var svg = d3.select("body").append("svg")
  .attr("width", width)
  .attr("height", height);

var x = d3.scaleLinear().domain([0, 6000000]).range([55.5, 781.5]);
var y = d3.scaleLinear().domain([0, 6000000]).range([774.5, 10.5]);

//grid + tick labels

svg.append("g")
  .attr("transform", "translate(" + x(0) + ",0)")
  .call(d3.axisLeft(y).tickValues(yTicks).tickFormat(d3.format("d"))
    .tickSize(-(x(6000000) - x(0))).tickPadding(6));

svg.append("g")
  .attr("transform", "translate(0," + y(0) + ")")
  .call(d3.axisBottom(x).tickValues(xTicks).tickFormat(d3.format("d"))
    .tickSize(-(y(0) - y(6000000))).tickPadding(5));

svg.selectAll(".domain").remove();
svg.selectAll(".tick line")
  .attr("stroke", "#999")
  .attr("stroke-dasharray", "3,3");

// points
function plotDots(pts, color) {
  svg.append("g")
    .selectAll("circle")
    .data(pts)
    .enter()
    .append("circle")
    .attr("cx", function(d){ return x(d[0] * 1e6); })
    .attr("cy", function(d){ return y(d[1] * 1e6); })
    .attr("r", dotR)
    .attr("fill", color);
}

plotDots(redPts, "#ff0000");
plotDots(bluePts, "#0a84f5");

// axis titles
svg.append("text")
  .attr("x", 390)
  .attr("y", 796)
  .attr("text-anchor", "middle")
  .style("font-family", "DejaVu Sans Mono, monospace")
  .style("font-size", "8.5px")
  .text(xLabel);

svg.append("text")
  .attr("transform", "translate(8," + y(3000000) + ") rotate(-90)")
  .attr("text-anchor", "middle")
  .style("font-family", "DejaVu Sans Mono, monospace")
  .style("font-size", "8.5px")
  .text(yLabel);
</script>
</body>
</html>
